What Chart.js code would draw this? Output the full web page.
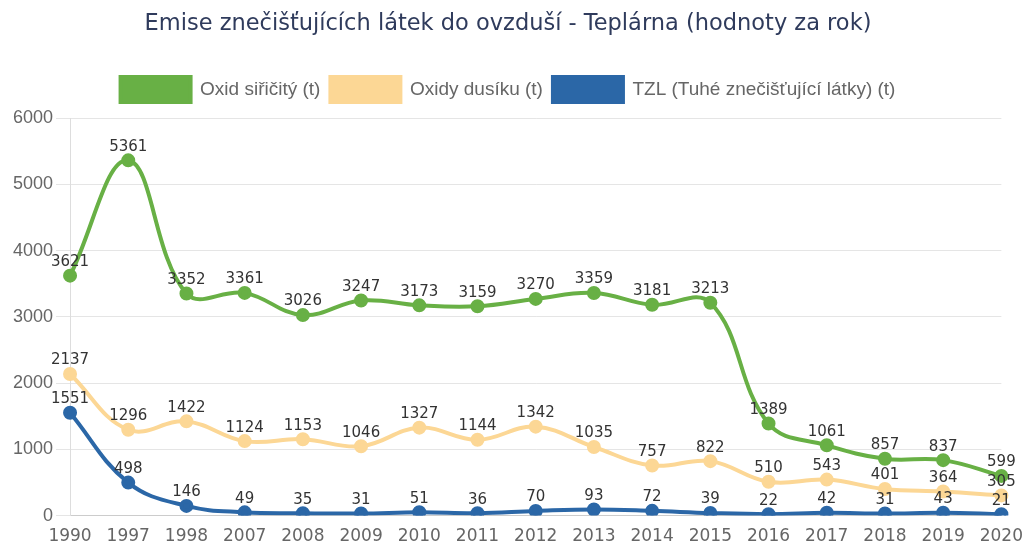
<!DOCTYPE html>
<html>
<head>
<meta charset="utf-8">
<script src="https://cdn.jsdelivr.net/npm/chart.js@4.4.0/dist/chart.umd.min.js"></script>
<style>
  body { margin: 0; background: #fff; }
  #wrap { width: 1026px; height: 550px; }
</style>
</head>
<body>
<div id="wrap"><canvas id="chartEmise" width="1026" height="550"></canvas></div>
<script>
// DATA
const roky = ['1990','1997','1998','2007','2008','2009','2010','2011','2012','2013','2014','2015','2016','2017','2018','2019','2020'];
const oxidSiricity = [3621, 5361, 3352, 3361, 3026, 3247, 3173, 3159, 3270, 3359, 3181, 3213, 1389, 1061, 857, 837, 599];
const oxidyDusiku = [2137, 1296, 1422, 1124, 1153, 1046, 1327, 1144, 1342, 1035, 757, 822, 510, 543, 401, 364, 305];
const tzl = [1551, 498, 146, 49, 35, 31, 51, 36, 70, 93, 72, 39, 22, 42, 31, 43, 21];
const yTicks = [0, 1000, 2000, 3000, 4000, 5000, 6000];

const FONT = "'DejaVu Sans', sans-serif";
const FONT2 = "'Liberation Sans', Arial, sans-serif";

// popisky hodnot nad body
const hodnoty = {
  id: 'hodnoty',
  afterDatasetsDraw(chart) {
    const ctx = chart.ctx;
    ctx.save();
    ctx.font = '15px ' + FONT;
    ctx.fillStyle = '#333';
    ctx.textAlign = 'center';
    ctx.textBaseline = 'bottom';
    chart.data.datasets.forEach((ds, i) => {
      chart.getDatasetMeta(i).data.forEach((pt, j) => {
        ctx.fillText(ds.data[j], pt.x, pt.y - 6);
      });
    });
    ctx.restore();
  }
};

// trochu mista pod legendou
const mezera = {
  id: 'mezera',
  beforeInit(chart) {
    const fit = chart.legend.fit;
    chart.legend.fit = function () {
      fit.bind(chart.legend)();
      this.height += 6;
    };
  }
};

const ctx = document.getElementById('chartEmise');

new Chart(ctx, {
  type: 'line',
  data: {
    labels: roky,
    datasets: [{
      label: 'Oxid siřičitý (t)',
      data: oxidSiricity,
      borderColor: '#68b045',
      backgroundColor: '#68b045',
      borderWidth: 4,
      pointRadius: 5,
      tension: .4
    }, {
      label: 'Oxidy dusíku (t)',
      data: oxidyDusiku,
      borderColor: '#fcd795',
      backgroundColor: '#fcd795',
      borderWidth: 4,
      pointRadius: 5,
      tension: .4
    }, {
      label: 'TZL (Tuhé znečišťující látky) (t)',
      data: tzl,
      borderColor: '#2b67a7',
      backgroundColor: '#2b67a7',
      borderWidth: 4,
      pointRadius: 5,
      tension: .4
    }]
  },
  options: {
    responsive: false,
    animation: false,
    layout: { padding: { left: 10, right: 20, top: 4, bottom: 0 } },
    plugins: {
      title: {
        display: true,
        text: 'Emise znečišťujících látek do ovzduší - Teplárna (hodnoty za rok)',
        color: '#2f3b5c',
        font: { family: FONT, size: 22.5, weight: 'normal' },
        padding: { top: 7, bottom: 29 }
      },
      legend: {
        labels: {
          boxWidth: 70,
          boxHeight: 25,
          color: '#666',
          font: { family: FONT2, size: 19 },
          padding: 10
        }
      },
      tooltip: { enabled: false }
    },
    scales: {
      x: {
        grid: { display: false },
        border: { color: '#ccc' },
        ticks: { color: '#666', font: { family: FONT, size: 17 } }
      },
      y: {
        min: 0,
        max: 6000,
        afterBuildTicks(axis) { axis.ticks = yTicks.map(v => ({ value: v })); },
        grid: { color: '#e5e5e5', tickLength: 14 },
        border: { color: '#ddd' },
        ticks: {
          color: '#666',
          font: { family: FONT2, size: 18 },
          callback: v => String(v)
        }
      }
    }
  },
  plugins: [hodnoty, mezera]
});
</script>
</body>
</html>
